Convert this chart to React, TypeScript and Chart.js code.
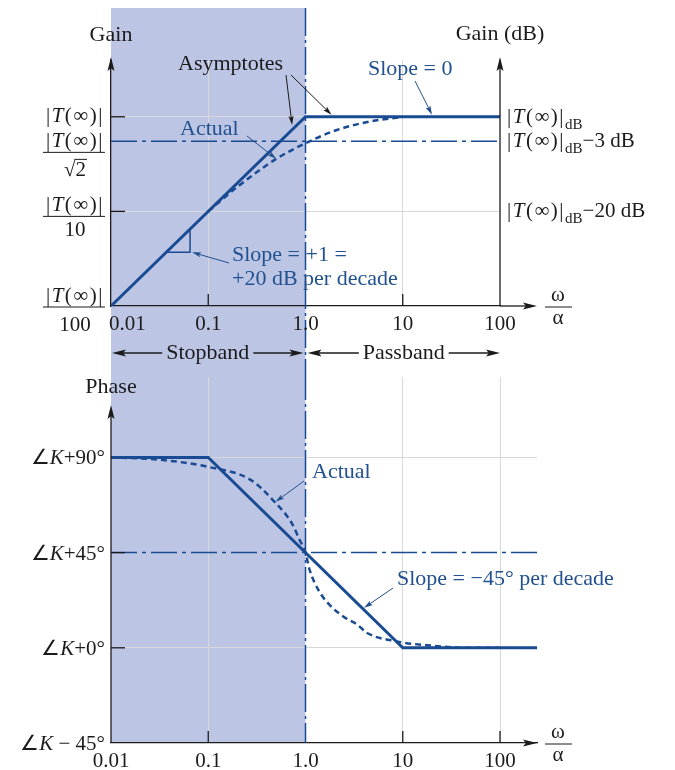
import React, { useEffect, useRef } from 'react';
import { Chart, registerables } from 'chart.js';

Chart.register(...registerables);

// ---------------- data ----------------
const X_TICK_VALUES = [0.01, 0.1, 1, 10, 100];
const X_TICK_LABELS = ['0.01', '0.1', '1.0', '10', '100'];
const STOPBAND_FROM = 0.01;
const CORNER_FREQ = 1;

const GAIN_X_RANGE = [0.01, 100];
const GAIN_Y_RANGE = [-40, 12];
const GAIN_GRID_X = [0.1, 10];
const GAIN_GRID_Y = [0, -20];
const GAIN_ASYM_W = [0.01, 1, 100];
const GAIN_ASYM_DB = [-40, 0, 0];
const GAIN_ACTUAL_W = [0.1, 0.2, 0.5, 1, 2.1, 4.6, 10];
const GAIN_ACTUAL_DB = [-20, -14.8, -8.9, -5.6, -2.8, -1.0, 0];
const GAIN_HALF_POWER_DB = -5.2;
const GAIN_LEVELS_DB = [0, -5.2, -20, -40];
const GAIN_LEFT_DENOMS = ['', '√2', '10', '100'];
const GAIN_RIGHT_SUFFIX = ['', '−3 dB', '−20 dB'];

const PHASE_X_RANGE = [0.01, 240];
const PHASE_Y_RANGE = [-45, 128];
const PHASE_GRID_X = [0.1, 10, 100];
const PHASE_GRID_Y = [90, 0];
const PHASE_TICKS_Y = [45, 0];
const PHASE_ASYM_W = [0.01, 0.1, 10, 240];
const PHASE_ASYM_DEG = [90, 90, 0, 0];
const PHASE_ACTUAL_W = [0.01, 0.03, 0.1, 0.27, 0.48, 0.72, 0.87, 1, 1.1, 1.35, 1.75, 2.5, 3.4, 4.3, 8.7, 20, 44, 100];
const PHASE_ACTUAL_DEG = [90, 89, 85.5, 79.5, 69, 59, 51, 45, 37, 27.5, 20.5, 14.5, 11, 7, 3, 1, 0, 0];
const PHASE_MID_DEG = 45;
const PHASE_LEVELS_DEG = [90, 45, 0, -45];
const PHASE_LEVEL_SUFFIX = ['+90°', '+45°', '+0°', ' − 45°'];

// ---------------- style / layout ----------------
const W = 675;
const TOP_H = 372;
const BOT_H = 398;
const FONT = '"Liberation Serif", "Times New Roman", serif';
const INK = '#1b1b1b';
const BLUE = '#194b93';
const TBLUE = '#22518f';
const SHADE = '#bdc5e4';
const GRID = '#d8d8d8';
const LEFT_BAR_OFFSET = [0, 11, 5, 1];
const DENOM_GAP = [0, 24, 20, 24];

type Seg = { t: string; italic?: boolean; sub?: boolean; sp?: number };
const TSEG: Seg[] = [{ t: '|', sp: 1.5 }, { t: 'T', italic: true, sp: 1.5 }, { t: '(∞)|', sp: 1.5 }];

function segFont(s: Seg, size: number) {
  const sz = s.sub ? Math.round(size * 0.7) : size;
  return `${s.italic ? 'italic ' : ''}${sz}px ${FONT}`;
}
function segWidth(ctx: any, s: Seg, size: number) {
  ctx.font = segFont(s, size);
  return ctx.measureText(s.t).width + (s.sp || 0) * s.t.length;
}
function richWidth(ctx: any, segs: Seg[], size: number) {
  let w = 0;
  for (const s of segs) w += segWidth(ctx, s, size);
  return w;
}
function drawRich(ctx: any, segs: Seg[], x: number, y: number, size: number, color: string, align: string) {
  const w = richWidth(ctx, segs, size);
  let cx = align === 'left' ? x : align === 'right' ? x - w : x - w / 2;
  ctx.fillStyle = color;
  ctx.textAlign = 'left';
  ctx.textBaseline = 'alphabetic';
  for (const s of segs) {
    ctx.font = segFont(s, size);
    const yy = s.sub ? y + size * 0.28 : y;
    if (s.sp) {
      for (const ch of s.t) {
        ctx.fillText(ch, cx, yy);
        cx += ctx.measureText(ch).width + s.sp;
      }
    } else {
      ctx.fillText(s.t, cx, yy);
      cx += ctx.measureText(s.t).width;
    }
  }
  return w;
}
function text(ctx: any, t: string, x: number, y: number, size: number, color: string, align = 'left') {
  ctx.font = `${size}px ${FONT}`;
  ctx.fillStyle = color;
  ctx.textAlign = align;
  ctx.textBaseline = 'alphabetic';
  ctx.fillText(t, x, y);
  return ctx.measureText(t).width;
}
function line(ctx: any, x1: number, y1: number, x2: number, y2: number, color: string, lw: number, dash: number[] = []) {
  ctx.save();
  ctx.strokeStyle = color;
  ctx.lineWidth = lw;
  ctx.setLineDash(dash);
  ctx.beginPath();
  ctx.moveTo(x1, y1);
  ctx.lineTo(x2, y2);
  ctx.stroke();
  ctx.restore();
}
function arrowHead(ctx: any, x: number, y: number, ang: number, len: number, hw: number, color: string) {
  ctx.save();
  ctx.translate(x, y);
  ctx.rotate(ang);
  ctx.beginPath();
  ctx.moveTo(0, 0);
  ctx.lineTo(-len, -hw);
  ctx.lineTo(-len * 0.8, 0);
  ctx.lineTo(-len, hw);
  ctx.closePath();
  ctx.fillStyle = color;
  ctx.fill();
  ctx.restore();
}
function leader(ctx: any, x1: number, y1: number, x2: number, y2: number, color: string, lw = 1, len = 9, hw = 2.6) {
  const ang = Math.atan2(y2 - y1, x2 - x1);
  line(ctx, x1, y1, x2 - Math.cos(ang) * len * 0.7, y2 - Math.sin(ang) * len * 0.7, color, lw);
  arrowHead(ctx, x2, y2, ang, len, hw, color);
}
function interpLog(ws: number[], vs: number[], w: number) {
  for (let i = 0; i < ws.length - 1; i++) {
    if (w >= ws[i] && w <= ws[i + 1]) {
      const t = (Math.log10(w) - Math.log10(ws[i])) / (Math.log10(ws[i + 1]) - Math.log10(ws[i]));
      return vs[i] + t * (vs[i + 1] - vs[i]);
    }
  }
  return vs[vs.length - 1];
}
function omegaAlpha(ctx: any, cx: number, axisY: number) {
  text(ctx, 'ω', cx, axisY - 5, 21, INK, 'center');
  line(ctx, cx - 13, axisY + 1, cx + 14, axisY + 1, INK, 1);
  text(ctx, 'α', cx, axisY + 18, 21, INK, 'center');
}
function bandArrow(ctx: any, label: string, xFrom: number, xTo: number, y: number) {
  const cx = (xFrom + xTo) / 2;
  ctx.font = `22px ${FONT}`;
  const w = ctx.measureText(label).width;
  text(ctx, label, cx, y + 6, 22, INK, 'center');
  line(ctx, cx - w / 2 - 4, y, xFrom + 8, y, INK, 1.3);
  arrowHead(ctx, xFrom, y, Math.PI, 14, 3.5, INK);
  line(ctx, cx + w / 2 + 4, y, xTo - 8, y, INK, 1.3);
  arrowHead(ctx, xTo, y, 0, 14, 3.5, INK);
}
function pts(ws: number[], vs: number[]) {
  return ws.map((w, i) => ({ x: w, y: vs[i] }));
}
function gridScale(type: string, range: number[], gridVals: number[], border: boolean) {
  return {
    type,
    min: range[0],
    max: range[1],
    afterBuildTicks: (s: any) => {
      s.ticks = gridVals.map((v) => ({ value: v }));
    },
    ticks: { display: false },
    grid: { color: GRID, lineWidth: 1, drawTicks: false },
    border: { display: border, color: INK, width: 1.3 },
  };
}

// ---------------- plugins ----------------
const gainPlugin = {
  id: 'gainDecor',
  beforeDraw(chart: any) {
    const { ctx } = chart;
    const xs = chart.scales.x;
    const xl = xs.getPixelForValue(STOPBAND_FROM);
    const xr = xs.getPixelForValue(CORNER_FREQ);
    ctx.save();
    ctx.fillStyle = SHADE;
    ctx.fillRect(xl, 8, xr - xl, chart.height - 8);
    ctx.restore();
  },
  afterDraw(chart: any) {
    const { ctx, chartArea: a } = chart;
    const xs = chart.scales.x;
    const ys = chart.scales.y;
    const X = (v: number) => xs.getPixelForValue(v);
    const Y = (v: number) => ys.getPixelForValue(v);
    ctx.save();
    line(ctx, X(CORNER_FREQ), 8, X(CORNER_FREQ), chart.height, BLUE, 1.5, [28, 4, 3, 4]);
    arrowHead(ctx, a.left, a.top - 3, -Math.PI / 2, 14, 3.5, INK);
    const xr = X(GAIN_X_RANGE[1]);
    line(ctx, xr, a.bottom, xr, a.top, INK, 1.3);
    arrowHead(ctx, xr, a.top - 3, -Math.PI / 2, 14, 3.5, INK);
    const xEnd = X(PHASE_X_RANGE[1]);
    line(ctx, a.right, a.bottom, xEnd - 8, a.bottom, INK, 1.3);
    arrowHead(ctx, xEnd, a.bottom, 0, 14, 3.5, INK);
    GAIN_GRID_X.forEach((v) => line(ctx, X(v), a.bottom, X(v), a.bottom - 12, INK, 1.3));
    GAIN_GRID_Y.forEach((v) => line(ctx, a.left, Y(v), a.left + 14, Y(v), INK, 1.3));
    text(ctx, 'Gain', a.left, 41, 22, INK, 'center');
    text(ctx, 'Gain (dB)', xr, 40, 22, INK, 'center');
    const LX = 104;
    GAIN_LEVELS_DB.forEach((v, i) => {
      const y = Y(v);
      const den = GAIN_LEFT_DENOMS[i];
      if (!den) {
        drawRich(ctx, TSEG, LX, y + 5, 21, INK, 'right');
        return;
      }
      const barY = y + LEFT_BAR_OFFSET[i];
      const w = drawRich(ctx, TSEG, LX, barY - 5, 21, INK, 'right');
      line(ctx, LX - w - 3, barY, LX + 1, barY, INK, 1);
      const cx = LX - w / 2;
      const dw = text(ctx, den, cx, barY + DENOM_GAP[i], 21, INK, 'center');
      if (den.startsWith('√')) {
        ctx.font = `21px ${FONT}`;
        const rw = ctx.measureText('√').width;
        const x0 = cx - dw / 2 + rw - 1;
        line(ctx, x0, barY + DENOM_GAP[i] - 17, cx + dw / 2 + 1, barY + DENOM_GAP[i] - 17, INK, 1);
      }
    });
    GAIN_RIGHT_SUFFIX.forEach((suf, i) => {
      const segs: Seg[] = [...TSEG, { t: 'dB', sub: true }];
      if (suf) segs.push({ t: suf });
      drawRich(ctx, segs, xr + 7, Y(GAIN_LEVELS_DB[i]) + 6, 21, INK, 'left');
    });
    X_TICK_VALUES.forEach((v, i) => {
      if (i === 0) text(ctx, X_TICK_LABELS[i], X(v) - 2, a.bottom + 24, 21, INK, 'left');
      else text(ctx, X_TICK_LABELS[i], X(v), a.bottom + 24, 21, INK, 'center');
    });
    omegaAlpha(ctx, 558, a.bottom);
    text(ctx, 'Asymptotes', 178, 70, 22, INK);
    const t1w = 0.8;
    leader(ctx, 286, 75, X(t1w) - 4, Y(interpLog(GAIN_ASYM_W, GAIN_ASYM_DB, t1w)) - 1, INK, 1);
    const t2w = 1.85;
    leader(ctx, 291, 75, X(t2w), Y(interpLog(GAIN_ASYM_W, GAIN_ASYM_DB, t2w)) - 2, INK, 1);
    text(ctx, 'Actual', 180, 135, 22, TBLUE);
    leader(ctx, 247, 136, X(GAIN_ACTUAL_W[2]), Y(GAIN_ACTUAL_DB[2]), TBLUE, 1);
    text(ctx, 'Slope = 0', 368, 75, 22, TBLUE);
    const tsw = 20;
    leader(ctx, 415, 81, X(tsw), Y(interpLog(GAIN_ASYM_W, GAIN_ASYM_DB, tsw)) - 2, TBLUE, 1);
    const w1 = 0.037, w2 = 0.065;
    const x1 = X(w1), x2 = X(w2);
    const y1 = Y(interpLog(GAIN_ASYM_W, GAIN_ASYM_DB, w1));
    const y2 = Y(interpLog(GAIN_ASYM_W, GAIN_ASYM_DB, w2));
    ctx.save();
    ctx.strokeStyle = BLUE;
    ctx.lineWidth = 1.5;
    ctx.beginPath();
    ctx.moveTo(x1, y1);
    ctx.lineTo(x2, y1);
    ctx.lineTo(x2, y2);
    ctx.stroke();
    ctx.restore();
    text(ctx, 'Slope = +1 =', 232, 261, 22, TBLUE);
    text(ctx, '+20 dB per decade', 232, 285, 22, TBLUE);
    leader(ctx, 229, 263, x2 + 2, y1, TBLUE, 1);
    bandArrow(ctx, 'Stopband', X(STOPBAND_FROM) + 1, X(CORNER_FREQ) - 2, 353);
    bandArrow(ctx, 'Passband', X(CORNER_FREQ) + 2, X(GAIN_X_RANGE[1]), 353);
    ctx.restore();
  },
};

const phasePlugin = {
  id: 'phaseDecor',
  beforeDraw(chart: any) {
    const { ctx, chartArea: a } = chart;
    const xs = chart.scales.x;
    const xl = xs.getPixelForValue(STOPBAND_FROM);
    const xr = xs.getPixelForValue(CORNER_FREQ);
    ctx.save();
    ctx.fillStyle = SHADE;
    ctx.fillRect(xl, 0, xr - xl, a.bottom);
    ctx.restore();
  },
  afterDraw(chart: any) {
    const { ctx, chartArea: a } = chart;
    const xs = chart.scales.x;
    const ys = chart.scales.y;
    const X = (v: number) => xs.getPixelForValue(v);
    const Y = (v: number) => ys.getPixelForValue(v);
    ctx.save();
    line(ctx, X(CORNER_FREQ), 0, X(CORNER_FREQ), a.bottom, BLUE, 1.5, [28, 4, 3, 4]);
    line(ctx, a.left, a.bottom, a.left, 42, INK, 1.3);
    arrowHead(ctx, a.left, 33, -Math.PI / 2, 14, 3.5, INK);
    arrowHead(ctx, a.right, a.bottom, 0, 14, 3.5, INK);
    PHASE_GRID_X.forEach((v) => line(ctx, X(v), a.bottom, X(v), a.bottom - 12, INK, 1.3));
    PHASE_TICKS_Y.forEach((v) => line(ctx, a.left, Y(v), a.left + 14, Y(v), INK, 1.3));
    text(ctx, 'Phase', a.left, 21, 22, INK, 'center');
    PHASE_LEVELS_DEG.forEach((v, i) => {
      drawRich(ctx, [{ t: '∠' }, { t: 'K', italic: true }, { t: PHASE_LEVEL_SUFFIX[i] }], 105, Y(v) + 7, 21, INK, 'right');
    });
    X_TICK_VALUES.forEach((v, i) => text(ctx, X_TICK_LABELS[i], X(v), a.bottom + 24, 21, INK, 'center'));
    omegaAlpha(ctx, 558, a.bottom);
    text(ctx, 'Actual', 312, 106, 22, TBLUE);
    leader(ctx, 304, 109, X(PHASE_ACTUAL_W[4]) + 1, Y(PHASE_ACTUAL_DEG[4]), TBLUE, 1);
    text(ctx, 'Slope = −45° per decade', 397, 213, 22, TBLUE);
    const sw = 3.9;
    leader(ctx, 393, 216, X(sw) + 1, Y(interpLog(PHASE_ASYM_W, PHASE_ASYM_DEG, sw)) - 1, TBLUE, 1);
    ctx.restore();
  },
};

function makeConfig(kind: 'gain' | 'phase'): any {
  const gain = kind === 'gain';
  const datasets = gain
    ? [
        { data: pts(GAIN_ASYM_W, GAIN_ASYM_DB), borderColor: BLUE, borderWidth: 3, pointRadius: 0, borderJoinStyle: 'miter' },
        { data: pts(GAIN_ACTUAL_W, GAIN_ACTUAL_DB), borderColor: BLUE, borderWidth: 2.5, borderDash: [6, 4], pointRadius: 0, cubicInterpolationMode: 'monotone' },
        { data: pts(GAIN_X_RANGE, [GAIN_HALF_POWER_DB, GAIN_HALF_POWER_DB]), borderColor: BLUE, borderWidth: 1.5, borderDash: [26, 5, 4, 5], pointRadius: 0 },
      ]
    : [
        { data: pts(PHASE_ASYM_W, PHASE_ASYM_DEG), borderColor: BLUE, borderWidth: 3, pointRadius: 0, borderJoinStyle: 'miter' },
        { data: pts(PHASE_ACTUAL_W, PHASE_ACTUAL_DEG), borderColor: BLUE, borderWidth: 2.5, borderDash: [6, 4], pointRadius: 0, cubicInterpolationMode: 'monotone' },
        { data: pts(PHASE_X_RANGE, [PHASE_MID_DEG, PHASE_MID_DEG]), borderColor: BLUE, borderWidth: 1.5, borderDash: [26, 5, 4, 5], pointRadius: 0 },
      ];
  return {
    type: 'line',
    data: { datasets },
    options: {
      responsive: false,
      maintainAspectRatio: false,
      animation: false,
      events: [],
      layout: gain
        ? { padding: { left: 111, right: W - 500, top: 60, bottom: TOP_H - 306 } }
        : { padding: { left: 111, right: W - 537, top: 5, bottom: BOT_H - 371 } },
      plugins: { legend: { display: false }, tooltip: { enabled: false } },
      scales: gain
        ? {
            x: gridScale('logarithmic', GAIN_X_RANGE, GAIN_GRID_X, true),
            y: gridScale('linear', GAIN_Y_RANGE, GAIN_GRID_Y, true),
          }
        : {
            x: gridScale('logarithmic', PHASE_X_RANGE, PHASE_GRID_X, true),
            y: gridScale('linear', PHASE_Y_RANGE, PHASE_GRID_Y, false),
          },
    },
    plugins: [gain ? gainPlugin : phasePlugin],
  };
}

export default function App() {
  const topRef = useRef<HTMLCanvasElement>(null);
  const botRef = useRef<HTMLCanvasElement>(null);
  useEffect(() => {
    const c1 = new Chart(topRef.current as HTMLCanvasElement, makeConfig('gain'));
    const c2 = new Chart(botRef.current as HTMLCanvasElement, makeConfig('phase'));
    return () => {
      c1.destroy();
      c2.destroy();
    };
  }, []);
  return (
    <div style={{ position: 'absolute', left: 0, top: 0, width: W, height: TOP_H + BOT_H, background: '#fff' }}>
      <canvas ref={topRef} width={W} height={TOP_H} style={{ position: 'absolute', left: 0, top: 0, width: W, height: TOP_H }} />
      <canvas ref={botRef} width={W} height={BOT_H} style={{ position: 'absolute', left: 0, top: TOP_H, width: W, height: BOT_H }} />
    </div>
  );
}
